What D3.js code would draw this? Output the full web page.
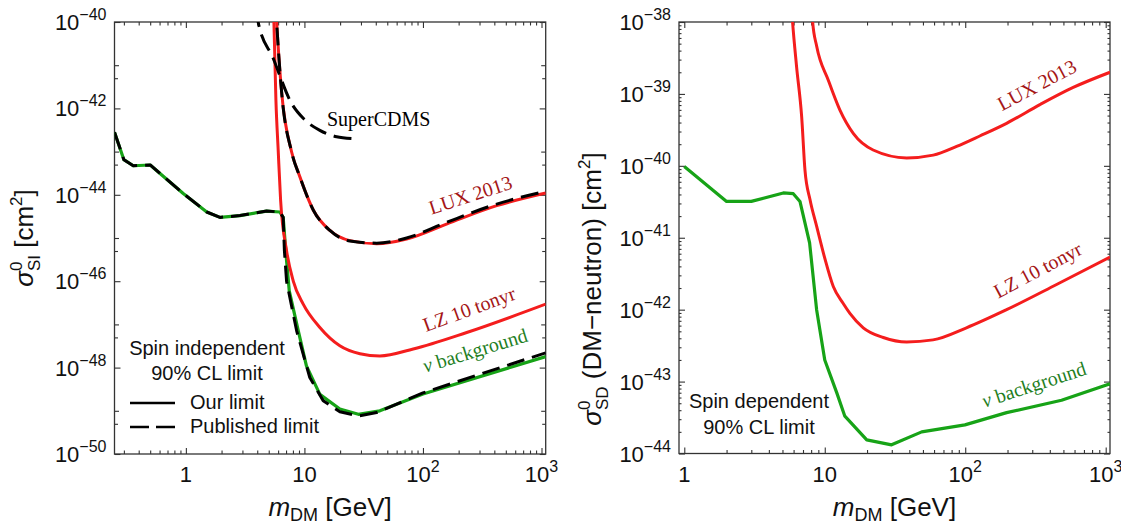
<!DOCTYPE html>
<html><head><meta charset="utf-8">
<script src="https://cdn.jsdelivr.net/npm/d3@7"></script>
<style>body{margin:0;background:#fff}svg{display:block}</style>
</head><body>
<svg id="c" width="1121" height="524"></svg>
<script>
// ---------------- DATA ----------------
// Spin independent panel (mass in GeV, cross-section in cm^2)
const siNuMass   = [0.25, 0.3, 0.36, 0.5, 0.95, 1.5, 1.94, 2.86, 4.8, 6.2, 6.62, 7.07, 7.45, 8.88, 10.4, 13.5, 19.9, 28.5, 43.3, 100, 1085];
const siNuSigma  = [2.8e-43, 6.5e-44, 4.7e-44, 4.9e-44, 1.07e-44, 4.0e-45, 3.0e-45, 3.3e-45, 4.2e-45, 4.0e-45, 3.0e-45, 3.0e-46, 6.0e-47, 7.1e-48, 1.1e-48, 2.4e-49, 1.1e-49, 8.3e-50, 1.0e-49, 2.45e-49, 1.8e-48];
const siNuPubMass  = [0.25, 0.3, 0.36, 0.5, 0.95, 1.5, 1.94, 2.86, 4.8, 6.2, 6.62, 6.78, 7.07, 8.6, 11.1, 14.4, 19.9, 28.5, 40.7, 100, 1085];
const siNuPubSigma = [2.8e-43, 6.5e-44, 4.7e-44, 4.9e-44, 1.07e-44, 4.0e-45, 3.0e-45, 3.3e-45, 4.2e-45, 4.0e-45, 3.0e-45, 5.1e-46, 1.0e-46, 7.1e-48, 5.9e-49, 1.7e-49, 9.5e-50, 7.6e-50, 9.1e-50, 2.6e-49, 2.2e-48];
const siLuxMass  = [5.7, 5.83, 6.42, 7.8, 9.16, 11.9, 16.4, 24.2, 40.7, 72.8, 158, 419, 1085];
const siLuxSigma = [3e-40, 1e-40, 2.4e-42, 9.8e-44, 2.6e-44, 4.4e-45, 1.5e-45, 8.7e-46, 7.4e-46, 9.5e-46, 2.1e-45, 5.6e-45, 1.1e-44];
const siLuxPubSigma = [3e-40, 1e-40, 2.4e-42, 9.8e-44, 2.6e-44, 4.4e-45, 1.5e-45, 8.5e-46, 7.6e-46, 1.0e-45, 2.3e-45, 6.1e-45, 1.2e-44];
const siLzMass   = [5.45, 5.53, 5.75, 6.01, 6.30, 7.07, 8.04, 9.77, 13.5, 19.9, 29.4, 43.3, 82.8, 234, 1085];
const siLzSigma  = [3e-40, 1e-40, 1.55e-42, 1.07e-43, 7.4e-45, 5.1e-46, 1.02e-46, 2.95e-47, 8.5e-48, 3.2e-48, 2.1e-48, 1.86e-48, 2.7e-48, 6.5e-48, 2.95e-47];
const cdmsMass   = [3.9, 4.07, 5.45, 7.8, 9.77, 13.5, 18.7, 25];
const cdmsSigma  = [2e-40, 1e-40, 1.45e-41, 1.3e-42, 5.9e-43, 3.1e-43, 2.2e-43, 2.0e-43];

// Spin dependent panel
const sdLuxMass  = [8.0, 8.2, 8.76, 10.6, 12.8, 16, 22.1, 38.3, 59.2, 86.8, 127, 197, 340, 587, 1073];
const sdLuxSigma = [2e-38, 1e-38, 4.6e-39, 1.55e-39, 6.0e-40, 2.8e-40, 1.66e-40, 1.29e-40, 1.41e-40, 1.86e-40, 2.6e-40, 3.9e-40, 7.1e-40, 1.23e-39, 2.0e-39];
const sdLzMass   = [5.8, 5.9, 6.3, 6.85, 7.23, 7.85, 8.75, 10, 11.5, 13.5, 15.1, 18.8, 26.1, 38.3, 59, 102, 197, 447, 1073];
const sdLzSigma  = [1.6e-38, 1e-38, 2.4e-39, 4.8e-40, 8.7e-41, 3.4e-41, 1.45e-41, 5.2e-42, 2.1e-42, 1.23e-42, 8.9e-43, 5.6e-43, 4.1e-43, 3.55e-43, 3.8e-43, 5.6e-43, 1.0e-42, 2.24e-42, 5.4e-42];
const sdNuMass   = [1, 2, 3, 5.07, 5.97, 6.66, 7.8, 8.75, 10, 12.2, 13.9, 19.9, 29.9, 49, 99.5, 197, 485, 1073];
const sdNuSigma  = [9.8e-41, 3.2e-41, 3.2e-41, 4.2e-41, 4.1e-41, 3.2e-41, 8.5e-42, 1.0e-42, 2.0e-43, 6.9e-44, 3.3e-44, 1.55e-44, 1.32e-44, 2.0e-44, 2.5e-44, 3.7e-44, 5.5e-44, 9.3e-44];

// Ticks
const siYMajorExp = [-50, -48, -46, -44, -42, -40];
const siYMidExp   = [-49, -47, -45, -43, -41];
const siYFiveExp  = [-50, -48, -46, -44, -42];
const sdYMajorExp = [-44, -43, -42, -41, -40, -39, -38];
const xMajor      = [1, 10, 100, 1000];
const xMajorLabels = [["1", ""], ["10", ""], ["10", "2"], ["10", "3"]];

// ---------------- DRAWING ----------------
const SANS = "'Liberation Sans', Arial, Helvetica, sans-serif";
const SERIF = "'Liberation Serif', 'Times New Roman', serif";
const RED = "#f41d1d", GREEN = "#17a317", TXT = "#111";
const RED_T = "#a51616", GREEN_T = "#1f7f1f";
const DASH = "18,8";
const svg = d3.select("#c");
svg.append("rect").attr("width", 1121).attr("height", 524).attr("fill", "#fff");

const minus = e => (e < 0 ? "\u2212" + (-e) : String(e));

function makePanel(id, cfg) {
  const x = d3.scaleLog().domain(cfg.xDom).range([cfg.left, cfg.right]);
  const y = d3.scaleLog().domain(cfg.yDom).range([cfg.bottom, cfg.top]);
  const g = svg.append("g");
  svg.append("clipPath").attr("id", id).append("rect")
    .attr("x", cfg.left).attr("y", cfg.top)
    .attr("width", cfg.right - cfg.left).attr("height", cfg.bottom - cfg.top);

  const clean = s => { s.select(".domain").remove(); s.selectAll("text").remove();
    s.selectAll("line").attr("stroke", "#333").attr("stroke-width", 1.1); };
  function ticks(vals, len, axisX) {
    const fx = axisX ? [[d3.axisBottom, cfg.bottom], [d3.axisTop, cfg.top]] : [[d3.axisLeft, cfg.left], [d3.axisRight, cfg.right]];
    fx.forEach(([ax, pos]) => {
      g.append("g").attr("transform", axisX ? `translate(0,${pos})` : `translate(${pos},0)`)
        .call(ax(axisX ? x : y).tickValues(vals).tickSizeInner(-len).tickSizeOuter(0).tickFormat(""))
        .call(clean);
    });
  }
  // x ticks
  ticks(xMajor.filter(v => v >= cfg.xDom[0] && v <= cfg.xDom[1]), 6, true);
  const xMinor = x.ticks().filter(v => Math.abs(Math.log10(v) - Math.round(Math.log10(v))) > 1e-6);
  ticks(xMinor, 3.5, true);
  // y ticks
  ticks(cfg.yMajor.map(e => Math.pow(10, e)), 6, false);
  if (cfg.yMid) ticks(cfg.yMid.map(e => Math.pow(10, e)), 4.5, false);
  if (cfg.yFive) ticks(cfg.yFive.map(e => 5 * Math.pow(10, e)), 3.5, false);
  if (cfg.yMinorAll) {
    const ym = y.ticks().filter(v => Math.abs(Math.log10(v) - Math.round(Math.log10(v))) > 1e-6);
    ticks(ym, 2.5, false);
  }
  // frame
  g.append("rect").attr("x", cfg.left).attr("y", cfg.top)
    .attr("width", cfg.right - cfg.left).attr("height", cfg.bottom - cfg.top)
    .attr("fill", "none").attr("stroke", "#333").attr("stroke-width", 1.3);

  // y labels
  cfg.yLabels.forEach(e => {
    const t = g.append("text").attr("x", cfg.left - 8).attr("y", y(Math.pow(10, e)) + 8)
      .attr("text-anchor", "end").attr("font-family", SANS).attr("font-size", 22).attr("fill", TXT);
    t.append("tspan").text("10");
    t.append("tspan").attr("dy", -10).attr("font-size", 16).text(minus(e));
  });
  // x labels
  xMajor.forEach((v, i) => {
    if (v < cfg.xDom[0] || v > cfg.xDom[1]) return;
    const t = g.append("text").attr("x", x(v)).attr("y", cfg.bottom + 28)
      .attr("text-anchor", "middle").attr("font-family", SANS).attr("font-size", 22).attr("fill", TXT);
    t.append("tspan").text(xMajorLabels[i][0]);
    if (xMajorLabels[i][1]) t.append("tspan").attr("dy", -10).attr("font-size", 16).text(xMajorLabels[i][1]);
  });
  // x title
  const xt = g.append("text").attr("x", (cfg.left + cfg.right) / 2).attr("y", 516)
    .attr("text-anchor", "middle").attr("font-family", SANS).attr("font-size", 26).attr("fill", TXT);
  xt.append("tspan").attr("font-style", "italic").text("m");
  xt.append("tspan").attr("dy", 5).attr("font-size", 18).text("DM");
  xt.append("tspan").attr("dy", -5).text(" [GeV]");

  const plot = g.append("g").attr("clip-path", `url(#${id})`);
  return { x, y, g, plot };
}

function curve(p, mass, sig, color, width, dash, smooth) {
  const line = d3.line().x(d => p.x(d[0])).y(d => p.y(d[1]))
    .curve(smooth ? d3.curveMonotoneX : d3.curveLinear);
  const path = p.plot.append("path").datum(d3.zip(mass, sig)).attr("d", line)
    .attr("fill", "none").attr("stroke", color).attr("stroke-width", width)
    .attr("stroke-linejoin", "round");
  if (dash) path.attr("stroke-dasharray", dash);
  return path;
}

function rotLabel(g, cx, cy, ang, text, color, font, size, italicFirst) {
  const t = g.append("text").attr("transform", `translate(${cx},${cy}) rotate(${-ang})`)
    .attr("text-anchor", "middle").attr("font-family", font).attr("font-size", size).attr("fill", color);
  if (italicFirst) {
    t.append("tspan").attr("font-style", "italic").text(italicFirst);
  }
  t.append("tspan").text(text);
}

function yTitle(g, tx, ty, sub, middle) {
  const t = g.append("text").attr("transform", `translate(${tx},${ty}) rotate(-90)`)
    .attr("text-anchor", "middle").attr("font-family", SANS).attr("font-size", 26).attr("fill", TXT);
  t.append("tspan").attr("font-style", "italic").text("\u03c3");
  t.append("tspan").attr("dy", -11).attr("font-size", 17).text("0");
  t.append("tspan").attr("dx", -9.5).attr("dy", 18).attr("font-size", 17).text(sub);
  t.append("tspan").attr("dy", -7).text(middle + " [cm");
  t.append("tspan").attr("dy", -11).attr("font-size", 17).text("2");
  t.append("tspan").attr("dy", 11).text("]");
}

// ---- Left panel ----
const PL = makePanel("clipL", { left: 114.5, right: 545.7, top: 22, bottom: 454,
  xDom: [0.25, 1085], yDom: [1e-50, 1e-40],
  yMajor: siYMajorExp, yMid: siYMidExp, yFive: siYFiveExp, yLabels: siYMajorExp });
curve(PL, siNuMass, siNuSigma, GREEN, 3.2, null, false);
curve(PL, siLzMass, siLzSigma, RED, 3, null, true);
curve(PL, siLuxMass, siLuxSigma, RED, 3, null, true);
curve(PL, siNuPubMass, siNuPubSigma, "#000", 3, DASH, false);
curve(PL, siLuxMass, siLuxPubSigma, "#000", 3, DASH, true);
curve(PL, cdmsMass, cdmsSigma, "#000", 3, DASH, true);
yTitle(PL.g, 33, 238, "SI", "");

PL.g.append("text").attr("x", 327).attr("y", 126).attr("font-family", SERIF)
  .attr("font-size", 20).attr("fill", "#000").text("SuperCDMS");
rotLabel(PL.g, 472.5, 201.5, 18, "LUX 2013", RED_T, SERIF, 20);
rotLabel(PL.g, 471.5, 315.5, 20, "LZ 10 tonyr", RED_T, SERIF, 20);
rotLabel(PL.g, 477, 357, 17, " background", GREEN_T, SERIF, 20, "\u03bd");

// legend left
const lg = PL.g.append("g").attr("font-family", SANS).attr("font-size", 20).attr("fill", TXT);
lg.append("text").attr("x", 207).attr("y", 355).attr("text-anchor", "middle").text("Spin independent");
lg.append("text").attr("x", 207).attr("y", 380).attr("text-anchor", "middle").text("90% CL limit");
lg.append("line").attr("x1", 130).attr("x2", 175).attr("y1", 403).attr("y2", 403)
  .attr("stroke", "#000").attr("stroke-width", 2.6);
lg.append("text").attr("x", 190).attr("y", 409).text("Our limit");
lg.append("line").attr("x1", 130).attr("x2", 175).attr("y1", 427).attr("y2", 427)
  .attr("stroke", "#000").attr("stroke-width", 2.6).attr("stroke-dasharray", "19,7");
lg.append("text").attr("x", 190).attr("y", 433).text("Published limit");

// ---- Right panel ----
const PR = makePanel("clipR", { left: 679, right: 1110, top: 22, bottom: 453.5,
  xDom: [0.917, 1073], yDom: [1e-44, 1e-38],
  yMajor: sdYMajorExp, yMinorAll: true, yLabels: sdYMajorExp });
curve(PR, sdNuMass, sdNuSigma, GREEN, 3.2, null, false);
curve(PR, sdLzMass, sdLzSigma, RED, 3, null, true);
curve(PR, sdLuxMass, sdLuxSigma, RED, 3, null, true);
yTitle(PR.g, 601, 289, "SD", " (DM\u2212neutron)");

rotLabel(PR.g, 1040, 91, 28, "LUX 2013", RED_T, SERIF, 20);
rotLabel(PR.g, 1041, 276, 28, "LZ 10 tonyr", RED_T, SERIF, 20);
rotLabel(PR.g, 1036, 391, 18, " background", GREEN_T, SERIF, 20, "\u03bd");

const lgR = PR.g.append("g").attr("font-family", SANS).attr("font-size", 20).attr("fill", TXT);
lgR.append("text").attr("x", 759).attr("y", 408).attr("text-anchor", "middle").text("Spin dependent");
lgR.append("text").attr("x", 759).attr("y", 434).attr("text-anchor", "middle").text("90% CL limit");
</script>
</body></html>
